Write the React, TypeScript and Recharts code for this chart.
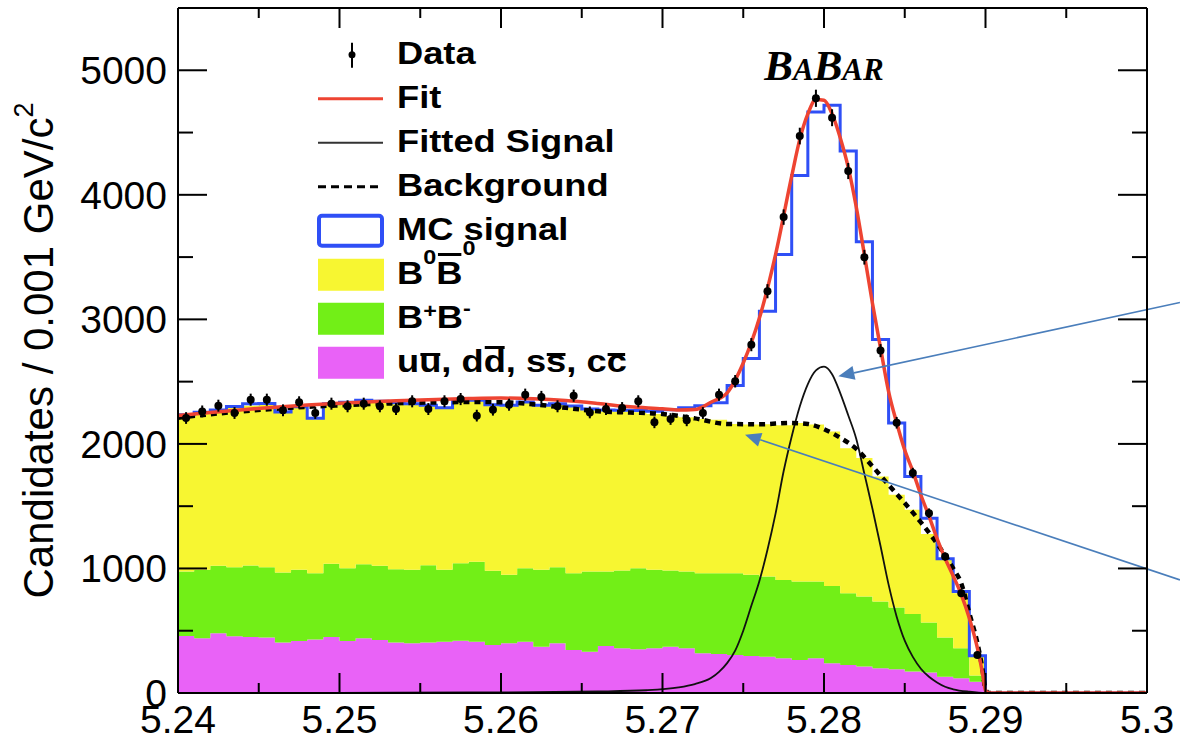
import {
  ComposedChart,
  Area,
  Line,
  Scatter,
  ErrorBar,
  XAxis,
  YAxis,
  Legend,
  ReferenceLine,
  ReferenceDot,
} from "recharts";

const FONT = '"Liberation Sans", Arial, Helvetica, sans-serif';
const SERIF = '"Liberation Serif", "Times New Roman", serif';

const X_MIN = 5.24;
const X_MAX = 5.3;
const BIN = 0.001; // 1 MeV bins
const Y_MAX = 5500;

// background MC per bin, stacked bottom -> top
const qqbar = [
  458, 440, 480, 456, 450, 445, 405, 417, 430, 450,
  417, 440, 425, 405, 400, 405, 412, 420, 412, 385,
  400, 412, 372, 399, 346, 332, 378, 359, 351, 359,
  372, 359, 319, 314, 305, 297, 292, 279, 265, 279,
  239, 225, 212, 198, 190, 172, 165, 131, 118, 91,
  0, 0, 0, 0, 0, 0, 0, 0, 0, 0,
];
const bPlusBMinus = [
  517, 549, 541, 554, 574, 565, 562, 572, 532, 587,
  585, 594, 596, 589, 589, 621, 577, 622, 641, 596,
  549, 590, 617, 611, 616, 643, 597, 624, 651, 630,
  611, 616, 643, 648, 657, 652, 643, 629, 630, 616,
  621, 576, 562, 537, 497, 462, 402, 315, 241, 49,
  0, 0, 0, 0, 0, 0, 0, 0, 0, 0,
];
const b0B0bar = [
  1252, 1259, 1241, 1278, 1283, 1305, 1283, 1299, 1238, 1278,
  1326, 1308, 1313, 1329, 1326, 1276, 1293, 1308, 1289, 1326,
  1353, 1326, 1313, 1305, 1335, 1295, 1287, 1277, 1253, 1251,
  1242, 1240, 1238, 1232, 1198, 1206, 1223, 1242, 1273, 1260,
  1240, 1164, 1112, 1004, 905, 837, 710, 623, 442, 160,
  0, 0, 0, 0, 0, 0, 0, 0, 0, 0,
];

// MC signal outline, drawn on top of the background stack
const mcSignalTop = [
  2235, 2255, 2272, 2300, 2322, 2325, 2256, 2298, 2206, 2322,
  2335, 2350, 2342, 2330, 2322, 2310, 2290, 2356, 2350, 2315,
  2310, 2336, 2310, 2322, 2305, 2280, 2272, 2270, 2268, 2262,
  2275, 2290, 2307, 2330, 2468, 2685, 3065, 3521, 4156, 4665,
  4719, 4351, 3623, 2838, 2168, 1739, 1404, 1077, 814, 300,
  0, 0, 0, 0, 0, 0, 0, 0, 0, 0,
];

// candidates per bin, up to the kinematic endpoint at 5.29
const dataCounts = [
  2208, 2261, 2307, 2248, 2355, 2355, 2270, 2334, 2248, 2323,
  2302, 2323, 2302, 2280, 2342, 2280, 2342, 2360, 2227, 2275,
  2315, 2395, 2377, 2302, 2387, 2253, 2280, 2288, 2342, 2173,
  2200, 2189, 2248, 2395, 2503, 2797, 3226, 3821, 4472, 4775,
  4619, 4191, 3499, 2749, 2170, 1766, 1444, 1096, 801, 305,
];

// total fit
const fitX = [
  5.24, 5.242, 5.244, 5.246, 5.248, 5.25, 5.252, 5.254, 5.256, 5.258,
  5.26, 5.262, 5.264, 5.266, 5.268, 5.27, 5.271, 5.272, 5.273, 5.274,
  5.275, 5.276, 5.277, 5.278, 5.2785, 5.279, 5.2795, 5.28, 5.2805, 5.281,
  5.2815, 5.282, 5.2825, 5.283, 5.2835, 5.284, 5.2845, 5.285, 5.2855, 5.286,
  5.2865, 5.287, 5.2875, 5.288, 5.2885, 5.289, 5.2895, 5.2898, 5.29, 5.2902, 5.3,
];
const fitY = [
  2228, 2252, 2275, 2295, 2312, 2326, 2338, 2348, 2357, 2364,
  2368, 2362, 2348, 2325, 2298, 2282, 2272, 2276, 2335, 2410,
  2650, 3010, 3520, 4150, 4445, 4650, 4765, 4760, 4650, 4460,
  4220, 3900, 3520, 3130, 2770, 2420, 2170, 1950, 1780, 1590,
  1420, 1240, 1080, 940, 790, 600, 360, 170, 20, 0, 0,
];

// fitted background (ARGUS-like shape)
const bkgX = [
  5.24, 5.242, 5.244, 5.246, 5.248, 5.25, 5.252, 5.254, 5.256, 5.258,
  5.26, 5.262, 5.264, 5.266, 5.268, 5.27, 5.272, 5.274, 5.276, 5.278,
  5.279, 5.28, 5.281, 5.282, 5.283, 5.284, 5.285, 5.286, 5.287, 5.288,
  5.2885, 5.289, 5.2895, 5.2898, 5.29, 5.2902, 5.3,
];
const bkgY = [
  2210, 2238, 2262, 2282, 2298, 2310, 2320, 2328, 2333, 2336,
  2335, 2318, 2290, 2262, 2252, 2240, 2205, 2160, 2158, 2168,
  2160, 2118, 2050, 1960, 1820, 1670, 1525, 1370, 1200, 1000,
  880, 640, 400, 200, 30, 0, 0,
];

// fitted signal
const sigX = [
  5.24, 5.25, 5.258, 5.262, 5.266, 5.269, 5.271, 5.272, 5.273, 5.2735,
  5.274, 5.2745, 5.275, 5.2755, 5.276, 5.2765, 5.277, 5.2775, 5.278, 5.2785,
  5.279, 5.2795, 5.28, 5.2805, 5.281, 5.2815, 5.282, 5.2825, 5.283, 5.2835,
  5.284, 5.2845, 5.285, 5.2855, 5.286, 5.2865, 5.287, 5.2875, 5.288, 5.289,
  5.29, 5.3,
];
const sigY = [
  0, 1, 4, 7, 12, 22, 45, 72, 120, 170,
  240, 340, 500, 700, 900, 1150, 1440, 1780, 2060, 2300,
  2480, 2590, 2620, 2560, 2410, 2230, 2040, 1760, 1480, 1180,
  870, 613, 420, 290, 195, 130, 85, 50, 30, 10,
  0, 0,
];

const xTicks = [5.24, 5.245, 5.25, 5.255, 5.26, 5.265, 5.27, 5.275, 5.28, 5.285, 5.29, 5.295, 5.3];
const yTicks = [0, 500, 1000, 1500, 2000, 2500, 3000, 3500, 4000, 4500, 5000];

const COLORS = {
  qq: "#e962f7",
  bpbm: "#72ef17",
  b0: "#f7f631",
  mc: "#2f4ff6",
  fit: "#ee4432",
  arrow: "#4a7ebb",
};

// one row per bin edge; the extra last edge closes the step
const histRows = Array.from({ length: qqbar.length + 1 }, (_, i) => {
  const b = Math.min(i, qqbar.length - 1);
  return {
    x: Number((X_MIN + i * BIN).toFixed(4)),
    qq: qqbar[b],
    bpbm: bPlusBMinus[b],
    b0: b0B0bar[b],
    mc: mcSignalTop[b],
  };
});

const dataRows = dataCounts.map((n, i) => ({
  x: X_MIN + (i + 0.5) * BIN,
  y: n,
  err: Math.sqrt(n),
}));

const fitRows = fitX.map((x, i) => ({ x, fit: fitY[i] }));
const bkgRows = bkgX.map((x, i) => ({ x, bkg: bkgY[i] }));
const sigRows = sigX.map((x, i) => ({ x, sig: sigY[i] }));

const isMajorX = (v: number) => Math.abs(v * 100 - Math.round(v * 100)) < 1e-6;
const isMajorY = (v: number) => v % 1000 === 0;
const fmtX = (v: number) => String(Number(v.toFixed(2)));

// ROOT-style ticks: drawn inside the frame
function BottomTick({ x, y, payload }: any) {
  const v = payload.value as number;
  const major = isMajorX(v);
  return (
    <g>
      <line x1={x} y1={y} x2={x} y2={y - (major ? 20 : 10)} stroke="#000" strokeWidth={2} />
      {major && (
        <text x={x} y={y + 40} textAnchor="middle" fontFamily={FONT} fontSize={39} fill="#000">
          {fmtX(v)}
        </text>
      )}
    </g>
  );
}

function TopTick({ x, y, payload }: any) {
  const major = isMajorX(payload.value);
  return <line x1={x} y1={y} x2={x} y2={y + (major ? 20 : 10)} stroke="#000" strokeWidth={2} />;
}

function LeftTick({ x, y, payload }: any) {
  const v = payload.value as number;
  const major = isMajorY(v);
  return (
    <g>
      <line x1={x} y1={y} x2={x + (major ? 29 : 15)} y2={y} stroke="#000" strokeWidth={2} />
      {major && (
        <text x={x - 11} y={y + 14} textAnchor="end" fontFamily={FONT} fontSize={39} fill="#000">
          {v}
        </text>
      )}
    </g>
  );
}

function RightTick({ x, y, payload }: any) {
  const major = isMajorY(payload.value);
  return <line x1={x} y1={y} x2={x - (major ? 29 : 15)} y2={y} stroke="#000" strokeWidth={2} />;
}

function YTitle(props: any) {
  const vb = props.viewBox ?? { x: 0, y: 8, width: 178, height: 685 };
  const x = vb.x + 53;
  const y = vb.y + vb.height / 2;
  return (
    <text
      transform={`translate(${x},${y}) rotate(-90)`}
      textAnchor="middle"
      fontFamily={FONT}
      fontSize={42}
      fill="#000"
    >
      Candidates / 0.001 GeV/c
      <tspan fontSize={27} dy={-20}>
        2
      </tspan>
    </text>
  );
}

function BabarLabel(props: any) {
  const vb = props.viewBox ?? { x: 0, y: 0, width: 0, height: 0 };
  const cx = vb.x + (vb.width || 0) / 2;
  const cy = vb.y + (vb.height || 0) / 2;
  return (
    <text x={cx} y={cy} textAnchor="middle" fontFamily={SERIF} fontWeight="bold" fontStyle="italic" fill="#000">
      <tspan fontSize={43}>B</tspan>
      <tspan fontSize={31}>A</tspan>
      <tspan fontSize={43}>B</tspan>
      <tspan fontSize={31}>AR</tspan>
    </text>
  );
}

function DataDot({ cx, cy }: any) {
  return <circle cx={cx} cy={cy} r={4} fill="#000" />;
}

function Arrow({ x1, y1, x2, y2 }: any) {
  const ang = Math.atan2(y2 - y1, x2 - x1);
  const len = 16;
  const half = 7;
  const bx = x2 - len * Math.cos(ang);
  const by = y2 - len * Math.sin(ang);
  const px = -Math.sin(ang) * half;
  const py = Math.cos(ang) * half;
  return (
    <g>
      <line x1={x1} y1={y1} x2={bx} y2={by} stroke={COLORS.arrow} strokeWidth={1.6} />
      <polygon points={`${x2},${y2} ${bx + px},${by + py} ${bx - px},${by - py}`} fill={COLORS.arrow} />
    </g>
  );
}

// legend pieces
const Sup = ({ children, raise }: any) => (
  <span style={{ fontSize: 20, position: "relative", top: -raise, lineHeight: 0 }}>{children}</span>
);

const Over = ({ children, top }: any) => (
  <span style={{ position: "relative", display: "inline-block" }}>
    {children}
    <span style={{ position: "absolute", left: 1, right: 1, top, height: 3, background: "#000" }} />
  </span>
);

const ROW_H = 44;
const SYM_CY = 22.75;

function Swatch({ kind }: { kind: string }) {
  let body: any = null;
  if (kind === "data") {
    body = (
      <g>
        <line x1={35} y1={SYM_CY - 12} x2={35} y2={SYM_CY + 13} stroke="#000" strokeWidth={2} />
        <circle cx={35} cy={SYM_CY} r={3.5} fill="#000" />
      </g>
    );
  } else if (kind === "fit") {
    body = <line x1={1} y1={SYM_CY} x2={66} y2={SYM_CY} stroke={COLORS.fit} strokeWidth={3} />;
  } else if (kind === "sig") {
    body = <line x1={1} y1={SYM_CY} x2={66} y2={SYM_CY} stroke="#333" strokeWidth={2} />;
  } else if (kind === "bkg") {
    body = (
      <line x1={1} y1={SYM_CY} x2={66} y2={SYM_CY} stroke="#000" strokeWidth={3} strokeDasharray="8 5" />
    );
  } else if (kind === "mc") {
    body = (
      <rect x={2} y={SYM_CY - 15} width={63} height={30} rx={3} fill="#fff" stroke={COLORS.mc} strokeWidth={4} />
    );
  } else {
    const fill = kind === "b0" ? COLORS.b0 : kind === "bpbm" ? COLORS.bpbm : COLORS.qq;
    body = <rect x={1} y={SYM_CY - 16} width={66} height={32} fill={fill} />;
  }
  return (
    <svg width={67} height={ROW_H} style={{ display: "block", flex: "none" }}>
      {body}
    </svg>
  );
}

const legendRows: { kind: string; label: any }[] = [
  { kind: "data", label: "Data" },
  { kind: "fit", label: "Fit" },
  { kind: "sig", label: "Fitted Signal" },
  { kind: "bkg", label: "Background" },
  { kind: "mc", label: "MC signal" },
  {
    kind: "b0",
    label: (
      <>
        B<Sup raise={20}>0</Sup>
        <Over top={1}>B</Over>
        <Sup raise={29}>0</Sup>
      </>
    ),
  },
  {
    kind: "bpbm",
    label: (
      <>
        B<Sup raise={10}>+</Sup>B<Sup raise={13}>-</Sup>
      </>
    ),
  },
  {
    kind: "qq",
    label: (
      <>
        u<Over top={13}>u</Over>, d<Over top={6}>d</Over>, s<Over top={13}>s</Over>, c<Over top={13}>c</Over>
      </>
    ),
  },
];

function LegendBox() {
  return (
    <div style={{ fontFamily: FONT, fontWeight: 700, fontSize: 31, color: "#000" }}>
      {legendRows.map((r) => (
        <div key={r.kind} style={{ display: "flex", alignItems: "center", height: ROW_H }}>
          <Swatch kind={r.kind} />
          <span
            style={{
              marginLeft: 13,
              lineHeight: `${ROW_H}px`,
              display: "inline-block",
              whiteSpace: "nowrap",
              transform: "scaleX(1.17)",
              transformOrigin: "0 50%",
            }}
          >
            {r.label}
          </span>
        </div>
      ))}
    </div>
  );
}

export default function App() {
  return (
    <div
      style={{
        position: "fixed",
        left: 0,
        top: 0,
        width: 1180,
        height: 740,
        background: "#fff",
        overflow: "hidden",
      }}
    >
      <ComposedChart width={1180} height={740} data={histRows} margin={{ top: 0, right: 0, bottom: 0, left: 0 }}>
        <Area type="stepAfter" dataKey="qq" stackId="bkg" stroke="none" fill={COLORS.qq} fillOpacity={1} isAnimationActive={false} />
        <Area type="stepAfter" dataKey="bpbm" stackId="bkg" stroke="none" fill={COLORS.bpbm} fillOpacity={1} isAnimationActive={false} />
        <Area type="stepAfter" dataKey="b0" stackId="bkg" stroke="none" fill={COLORS.b0} fillOpacity={1} isAnimationActive={false} />
        <Line type="stepAfter" dataKey="mc" stroke={COLORS.mc} strokeWidth={3} dot={false} isAnimationActive={false} />
        <Line data={sigRows} type="monotone" dataKey="sig" stroke="#111" strokeWidth={1.8} dot={false} isAnimationActive={false} />
        <Line
          data={bkgRows}
          type="monotone"
          dataKey="bkg"
          stroke="#000"
          strokeWidth={4.5}
          strokeDasharray="6 5"
          dot={false}
          isAnimationActive={false}
        />
        <Line data={fitRows} type="monotone" dataKey="fit" stroke={COLORS.fit} strokeWidth={3.5} dot={false} isAnimationActive={false} />
        <Scatter data={dataRows} dataKey="y" fill="#000" shape={DataDot} isAnimationActive={false}>
          <ErrorBar dataKey="err" direction="y" width={0} stroke="#000" strokeWidth={2} />
        </Scatter>

        <ReferenceLine
          segment={[{ x: 5.30204, y: 3135 }, { x: 5.28089, y: 2543 }]}
          ifOverflow="visible"
          shape={Arrow}
        />
        <ReferenceLine
          segment={[{ x: 5.30204, y: 908 }, { x: 5.27511, y: 2074 }]}
          ifOverflow="visible"
          shape={Arrow}
        />
        <ReferenceDot x={5.28} y={4920} r={0} fill="none" stroke="none" label={<BabarLabel />} />

        <XAxis
          type="number"
          dataKey="x"
          domain={[X_MIN, X_MAX]}
          allowDataOverflow
          ticks={xTicks}
          interval={0}
          height={47}
          tickSize={0}
          tickMargin={0}
          tickLine={false}
          axisLine={{ stroke: "#000", strokeWidth: 2 }}
          tick={BottomTick}
        />
        <XAxis
          xAxisId="top"
          orientation="top"
          type="number"
          dataKey="x"
          domain={[X_MIN, X_MAX]}
          allowDataOverflow
          ticks={xTicks}
          interval={0}
          height={8}
          tickSize={0}
          tickMargin={0}
          tickLine={false}
          axisLine={{ stroke: "#000", strokeWidth: 2 }}
          tick={TopTick}
        />
        <YAxis
          type="number"
          domain={[0, Y_MAX]}
          allowDataOverflow
          ticks={yTicks}
          interval={0}
          width={178}
          tickSize={0}
          tickMargin={0}
          tickLine={false}
          axisLine={{ stroke: "#000", strokeWidth: 2 }}
          tick={LeftTick}
          label={<YTitle />}
        />
        <YAxis
          yAxisId="right"
          orientation="right"
          type="number"
          domain={[0, Y_MAX]}
          allowDataOverflow
          ticks={yTicks}
          interval={0}
          width={33}
          tickSize={0}
          tickMargin={0}
          tickLine={false}
          axisLine={{ stroke: "#000", strokeWidth: 2 }}
          tick={RightTick}
        />
        <Legend
          layout="vertical"
          align="center"
          verticalAlign="middle"
          wrapperStyle={{ left: 317, top: 32, width: 420 }}
          content={() => <LegendBox />}
        />
      </ComposedChart>
    </div>
  );
}
